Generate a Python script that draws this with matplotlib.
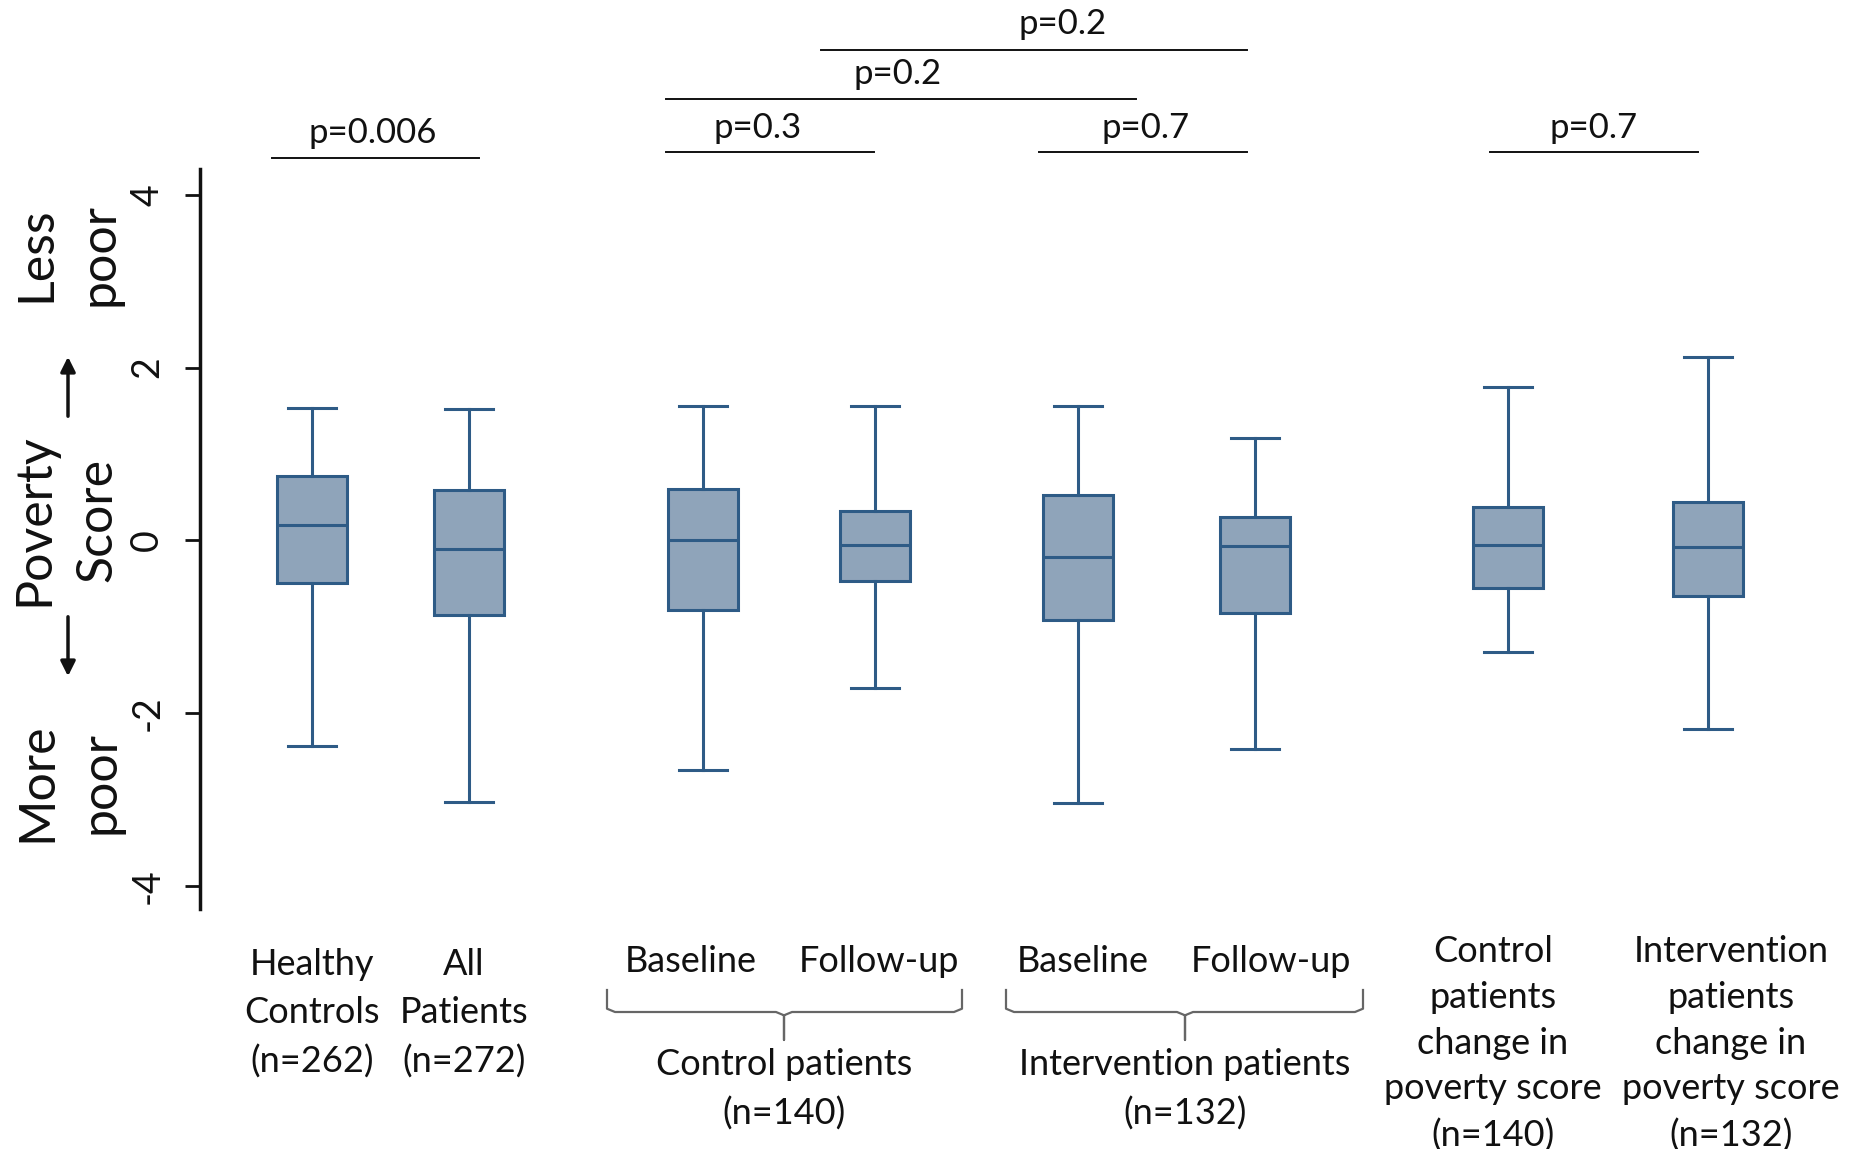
"""Box plots of poverty score: healthy controls vs patients, control vs intervention arms."""

import matplotlib.pyplot as plt
from matplotlib.transforms import blended_transform_factory

plt.rcParams["font.family"] = ["Lato", "DejaVu Sans"]

W, H = 1852, 1149

BOX_FILL = "#8fa4ba"
BOX_EDGE = "#2e5b86"
INK = "#111111"
BRACE = "#666666"

# box statistics (poverty score units)
GROUPS = ["Healthy Controls", "All Patients", "Control Baseline", "Control Follow-up",
          "Intervention Baseline", "Intervention Follow-up",
          "Control change", "Intervention change"]
MEDIAN = [0.18, -0.10, 0.00, -0.05, -0.19, -0.07, -0.05, -0.08]
Q1 = [-0.49, -0.86, -0.81, -0.47, -0.92, -0.84, -0.55, -0.64]
Q3 = [0.75, 0.58, 0.59, 0.34, 0.52, 0.27, 0.38, 0.44]
WHISLO = [-2.38, -3.03, -2.66, -1.71, -3.04, -2.42, -1.29, -2.19]
WHISHI = [1.53, 1.52, 1.55, 1.55, 1.55, 1.18, 1.78, 2.12]

P_VALUES = ["p=0.006", "p=0.3", "p=0.7", "p=0.7", "p=0.2", "p=0.2"]
Y_TICKS = [-4, -2, 0, 2, 4]

# layout (x in axis units, 1 unit = 100 px)
POS = [1.12, 2.69, 5.03, 6.75, 8.78, 10.55, 13.08, 15.08]
# bracket: (x0, x1, line y, text x, text y) in data units
BRACKETS = [
    (0.72, 2.79, 4.43, 1.73, 4.72),
    (4.66, 6.74, 4.50, 5.58, 4.78),
    (8.39, 10.47, 4.50, 9.46, 4.78),
    (12.90, 14.98, 4.50, 13.94, 4.78),
    (4.66, 9.36, 5.11, 6.98, 5.40),
    (6.21, 10.47, 5.68, 8.63, 5.98),
]


def fy(px):
    return 1 - px / H


def draw_brace(ax, trans, x0, x1, xm, y_top, y_mid, y_tip):
    r = 0.08
    dy = (y_top - y_mid) * 0.15
    xs = [x0, x0, x0 + r, xm - r, xm, xm, xm, xm + r, x1 - r, x1, x1]
    ys = [y_top, y_mid + dy, y_mid, y_mid, y_mid - dy, y_tip, y_mid - dy, y_mid, y_mid, y_mid + dy, y_top]
    ax.plot(xs, ys, color=BRACE, lw=1.6, transform=trans, clip_on=False,
            solid_joinstyle="round")


def main():
    fig = plt.figure(figsize=(W / 100, H / 100), dpi=100)
    fig.patch.set_facecolor("white")
    ax = fig.add_axes([200 / W, fy(909), (W - 200) / W, (909 - 169) / H])

    stats = [
        dict(label=g, med=m, q1=a, q3=b, whislo=lo, whishi=hi, fliers=[])
        for g, m, a, b, lo, hi in zip(GROUPS, MEDIAN, Q1, Q3, WHISLO, WHISHI)
    ]
    ax.bxp(
        stats, positions=POS, widths=0.70, capwidths=0.48, patch_artist=True,
        showfliers=False,
        boxprops=dict(facecolor=BOX_FILL, edgecolor=BOX_EDGE, linewidth=2.2),
        medianprops=dict(color=BOX_EDGE, linewidth=2.2),
        whiskerprops=dict(color=BOX_EDGE, linewidth=2.2),
        capprops=dict(color=BOX_EDGE, linewidth=2.2),
    )

    ax.set_xlim(0, (W - 200) / 100)
    ax.set_ylim(-4.27, 4.30)
    ax.set_yticks(Y_TICKS)
    ax.set_yticklabels([str(t) for t in Y_TICKS], rotation=90, va="center",
                       fontsize=27, color=INK)
    ax.tick_params(axis="y", length=11, width=2, pad=14, colors=INK)
    ax.set_xticks([])
    for side in ("top", "right", "bottom"):
        ax.spines[side].set_visible(False)
    ax.spines["left"].set_linewidth(2.5)
    ax.spines["left"].set_color(INK)

    # significance brackets
    for p, (x0, x1, yl, xt, yt) in zip(P_VALUES, BRACKETS):
        ax.plot([x0, x1], [yl, yl], color=INK, lw=1.4, clip_on=False)
        ax.text(xt, yt, p, ha="center", va="center", fontsize=25, color=INK)

    # group labels beneath the axis
    trans = blended_transform_factory(ax.transData, fig.transFigure)
    lab = dict(ha="center", va="center", fontsize=26, color=INK, transform=trans,
               multialignment="center", linespacing=1.55)
    ax.text(POS[0], fy(1013), "Healthy\nControls\n(n=262)", **lab)
    ax.text(POS[1] - 0.05, fy(1013), "All\nPatients\n(n=272)", **lab)
    ax.text(4.91, fy(962), "Baseline", **lab)
    ax.text(6.79, fy(962), "Follow-up", **lab)
    ax.text(8.83, fy(962), "Baseline", **lab)
    ax.text(10.71, fy(962), "Follow-up", **lab)
    ax.text(5.84, fy(1089), "Control patients\n(n=140)", **lab)
    ax.text(9.85, fy(1089), "Intervention patients\n(n=132)", **lab)
    lab5 = dict(lab, linespacing=1.47)
    ax.text(12.93, fy(1044), "Control\npatients\nchange in\npoverty score\n(n=140)", **lab5)
    ax.text(15.31, fy(1044), "Intervention\npatients\nchange in\npoverty score\n(n=132)", **lab5)

    draw_brace(ax, trans, 4.07, 7.62, 5.84, fy(990), fy(1012), fy(1040))
    draw_brace(ax, trans, 8.06, 11.63, 9.85, fy(990), fy(1012), fy(1040))

    # y-axis label with direction arrows
    ylab = dict(rotation=90, ha="center", va="center", fontsize=36, color=INK,
                multialignment="center", linespacing=1.45)
    fig.text(68 / W, fy(254), "Less\npoor", **ylab)
    fig.text(66 / W, fy(520), "Poverty\nScore", **ylab)
    fig.text(69 / W, fy(782), "More\npoor", **ylab)
    arrow = dict(arrowstyle="-|>", color=INK, lw=2.5, mutation_scale=22)
    ax.annotate("", xy=(68, H - 354), xytext=(68, H - 419), xycoords="figure pixels",
                textcoords="figure pixels", arrowprops=arrow, annotation_clip=False)
    ax.annotate("", xy=(68, H - 679), xytext=(68, H - 614), xycoords="figure pixels",
                textcoords="figure pixels", arrowprops=arrow, annotation_clip=False)

    fig.savefig("out.png", dpi=100, facecolor="white")


if __name__ == "__main__":
    main()
